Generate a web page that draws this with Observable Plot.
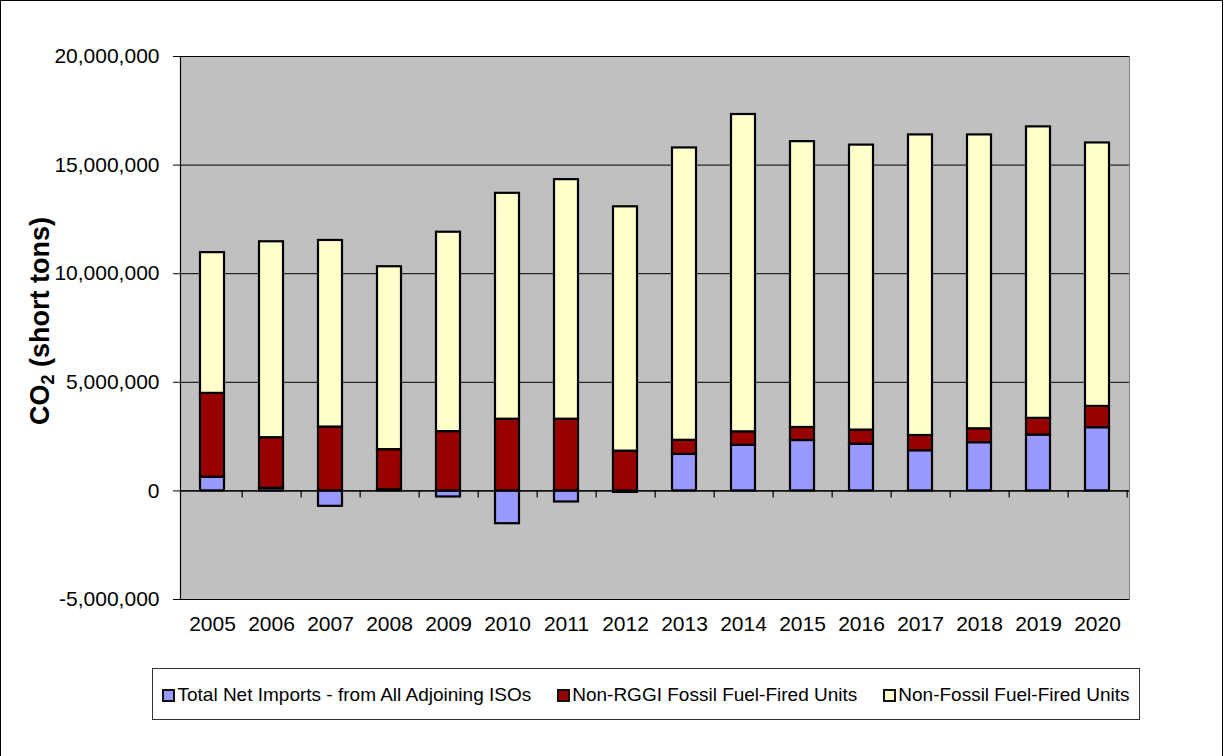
<!DOCTYPE html>
<html>
<head>
<meta charset="utf-8">
<script src="https://cdn.jsdelivr.net/npm/d3@7"></script>
<script src="https://cdn.jsdelivr.net/npm/@observablehq/plot@0.6"></script>
<style>
  html, body { margin: 0; padding: 0; background: white; overflow: hidden; }
  #wrap { position: relative; width: 1225px; height: 756px; overflow: hidden; font-family: "Liberation Sans", Arial, sans-serif; }
  #border { position: absolute; left: 0; top: 0; width: 1223px; height: 760px; border: 1px solid #000; box-sizing: border-box; pointer-events: none; }
  #chart { position: absolute; left: 0; top: 0; }
  #ytitle { position: absolute; left: 40px; top: 321px; transform: translate(-50%, -50%) rotate(-90deg); font-weight: bold; font-size: 27px; white-space: nowrap; color: #000; }
  #ytitle sub { font-size: 18px; vertical-align: -5px; line-height: 0; }
  #legend { position: absolute; left: 152px; top: 668px; width: 988px; height: 52px; border: 1px solid #333; box-sizing: border-box; display: flex; align-items: center; justify-content: center; gap: 26px; font-size: 19px; padding-top: 2px; }
  .item { display: flex; align-items: center; white-space: nowrap; }
  .sw { width: 9px; height: 9px; border: 2px solid #111; margin-right: 2px; }
</style>
</head>
<body>
<div id="wrap">
  <div id="chart"></div>
  <div id="ytitle">CO<sub>2</sub> (short tons)</div>
  <div id="legend"></div>
  <div id="border"></div>
</div>
<script>
const years = [2005, 2006, 2007, 2008, 2009, 2010, 2011, 2012, 2013, 2014, 2015, 2016, 2017, 2018, 2019, 2020];
const seriesNames = ["Total Net Imports - from All Adjoining ISOs", "Non-RGGI Fossil Fuel-Fired Units", "Non-Fossil Fuel-Fired Units"];
const seriesColors = ["#9999FF", "#990000", "#FFFFCC"];
const netImports = [630000, 120000, -710000, 50000, -280000, -1510000, -510000, -70000, 1680000, 2100000, 2320000, 2150000, 1850000, 2220000, 2570000, 2910000];
const nonRggiFossil = [3860000, 2330000, 2940000, 1850000, 2730000, 3300000, 3300000, 1830000, 650000, 620000, 600000, 650000, 700000, 640000, 770000, 980000];
const nonFossil = [6480000, 9020000, 8590000, 8420000, 9180000, 10400000, 11030000, 11250000, 13460000, 14610000, 13160000, 13120000, 13840000, 13530000, 13420000, 12130000];
const yTicks = [-5000000, 0, 5000000, 10000000, 15000000, 20000000];

const seriesValues = [netImports, nonRggiFossil, nonFossil];
const data = [];
seriesNames.forEach((s, k) => {
  years.forEach((y, i) => data.push({year: String(y), series: s, value: seriesValues[k][i]}));
});

const W = 1225, H = 660, ML = 180, MR = 96, MT = 56, MB = 61;
const step = (W - ML - MR) / years.length;
const fmt = d => d.toLocaleString("en-US");

const chart = Plot.plot({
  width: W,
  height: H,
  marginLeft: ML,
  marginRight: MR,
  marginTop: MT,
  marginBottom: MB,
  style: {fontFamily: "'Liberation Sans', Arial, sans-serif", fontSize: "20px", color: "#000", background: "transparent"},
  x: {domain: years.map(String), paddingInner: 0.6, paddingOuter: 0.3, label: null},
  y: {domain: [-5000000, 20000000], label: null},
  color: {domain: seriesNames, range: seriesColors},
  marks: [
    Plot.frame({fill: "#C0C0C0", stroke: "#808080"}),
    Plot.gridY(yTicks, {stroke: "#000", strokeOpacity: 1, strokeWidth: 1}),
    Plot.barY(data, {x: "year", y: "value", fill: "series", stroke: "#000", strokeWidth: 2.2, order: seriesNames}),
    Plot.ruleY([0], {stroke: "#000", strokeWidth: 1.2}),
    Plot.ruleX(years.map(String), {x: d => d, y1: 0, y2: 0, dx: step / 2, insetBottom: -7, stroke: "#000", strokeWidth: 1.2}),
    Plot.axisY(yTicks, {tickSize: 7, tickPadding: 14, tickFormat: fmt, stroke: "#000", fontSize: 21, label: null}),
    Plot.axisX({tickSize: 0, tickPadding: 17, fontSize: 21, label: null}),
    Plot.frame({anchor: "left", stroke: "#000", strokeWidth: 1.2})
  ]
});
document.getElementById("chart").appendChild(chart);

const legend = document.getElementById("legend");
seriesNames.forEach((s, k) => {
  const it = document.createElement("div");
  it.className = "item";
  const sw = document.createElement("span");
  sw.className = "sw";
  sw.style.background = seriesColors[k];
  const t = document.createElement("span");
  t.textContent = s;
  it.appendChild(sw);
  it.appendChild(t);
  legend.appendChild(it);
});
</script>
</body>
</html>
